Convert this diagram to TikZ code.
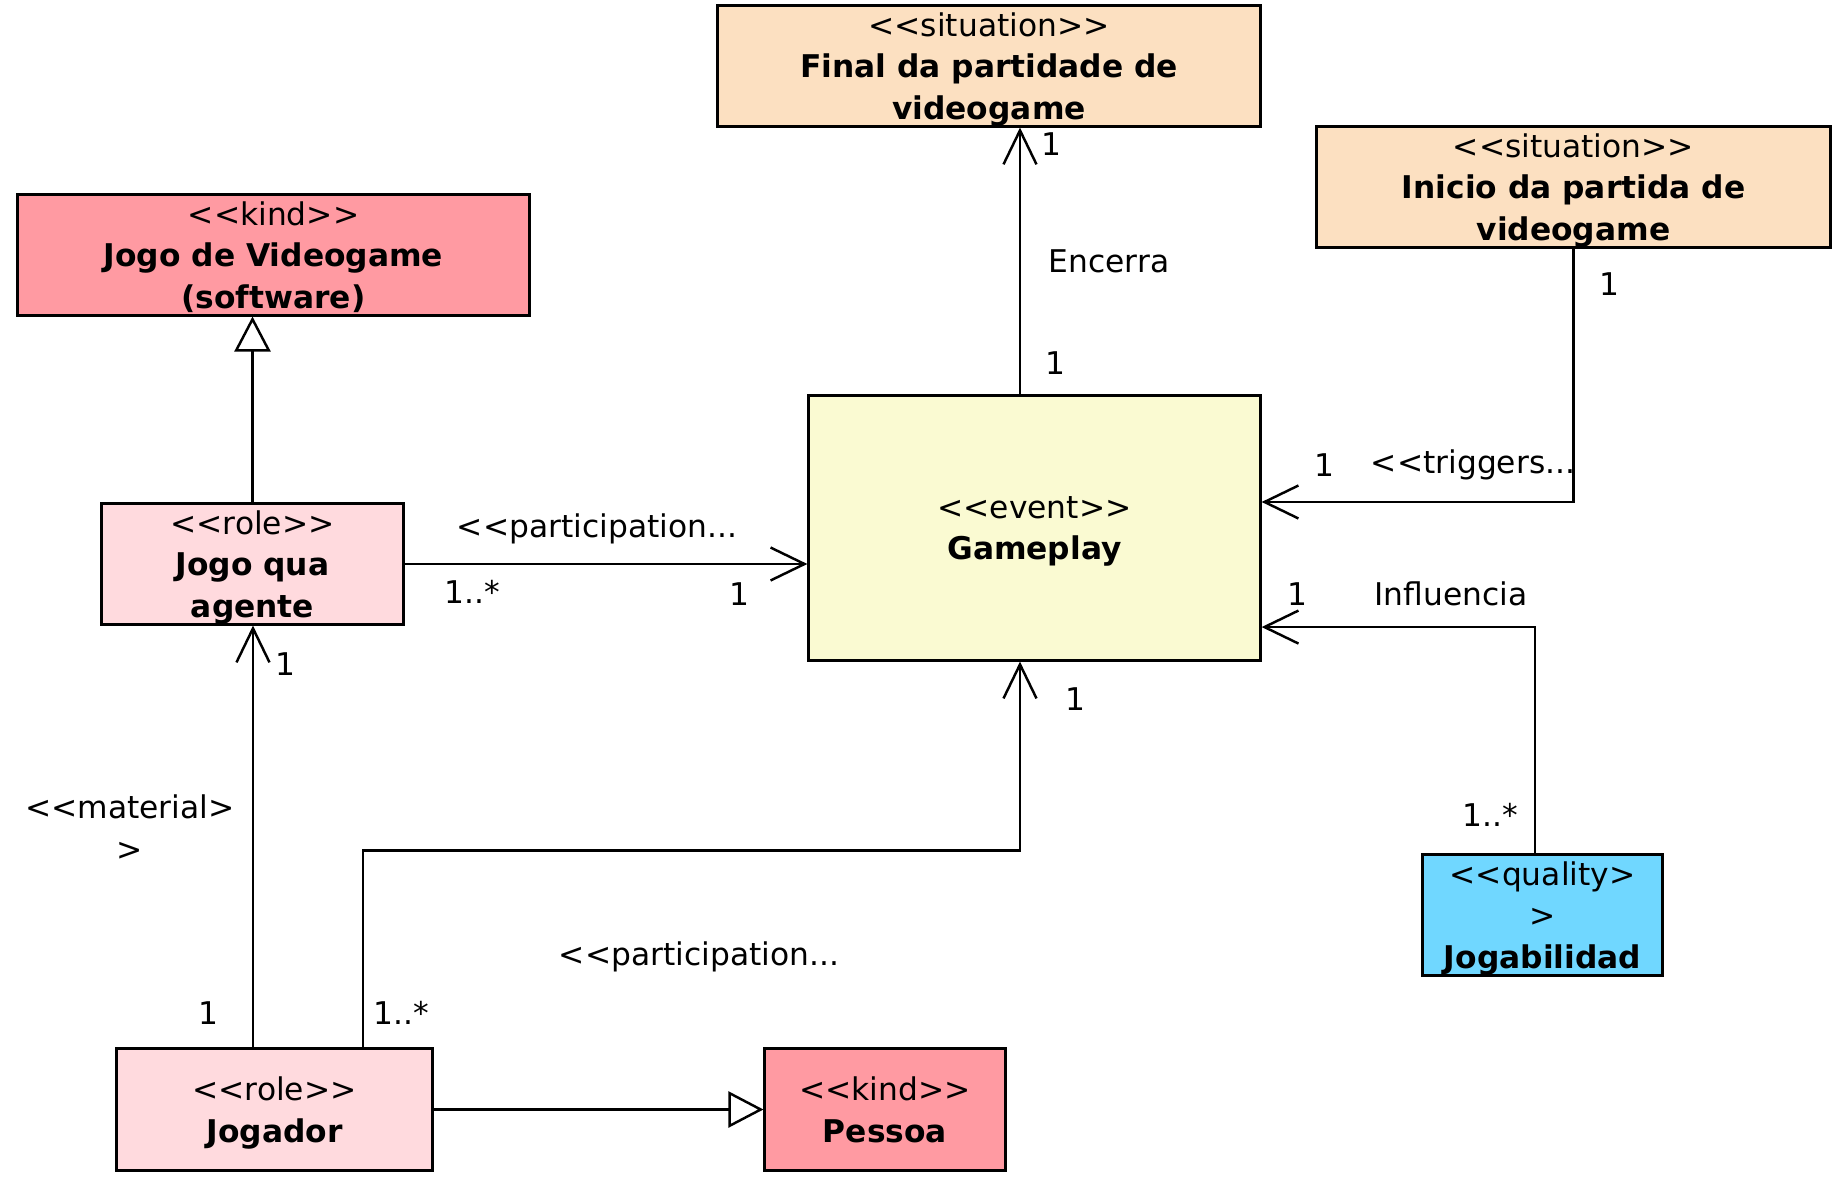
\documentclass[tikz,border=0pt]{standalone}
\usepackage{fontspec}
\setmainfont{DejaVu Sans}[Ligatures=TeXOff]
\usepackage{xcolor}
\usetikzlibrary{arrows.meta, positioning, calc}

\definecolor{sitfill}{RGB}{252,224,193}
\definecolor{kindfill}{RGB}{255,154,162}
\definecolor{rolefill}{RGB}{255,218,222}
\definecolor{eventfill}{RGB}{250,250,210}
\definecolor{qualfill}{RGB}{112,215,255}

\begin{document}
\begin{tikzpicture}[
  x=0.01cm, y=-0.01cm,
  % Class boxes
  classbox/.style={rectangle, draw=black, line width=0.85pt, align=center, inner sep=0pt,
    text depth=0pt, font=\fontsize{8.9}{11.9}\selectfont},
  situation/.style={classbox, fill=sitfill},
  kind/.style={classbox, fill=kindfill},
  role/.style={classbox, fill=rolefill},
  event/.style={classbox, fill=eventfill},
  quality/.style={classbox, fill=qualfill},
  % Association (open arrow) and generalization (hollow triangle)
  assoc/.style={-{Straight Barb[length=0.34cm, width=0.33cm]}, line width=0.7pt},
  gen/.style={-{Triangle[open, fill=white, length=0.35cm, width=0.36cm]}, line width=0.7pt},
  % Edge labels
  lbl/.style={inner sep=0pt, align=center, font=\fontsize{8.9}{11.9}\selectfont}
]
\useasboundingbox (0,0) rectangle (1842,1182);

%% Classes
\node[situation, minimum width=5.42cm, minimum height=1.2cm] (fim) at (989, 66)
  {<<situation>>\\\textbf{Final da partidade de}\\\textbf{videogame}};
\node[situation, minimum width=5.13cm, minimum height=1.2cm] (inicio) at (1573.5, 187)
  {<<situation>>\\\textbf{Inicio da partida de}\\\textbf{videogame}};
\node[kind, minimum width=5.11cm, minimum height=1.2cm] (jogo) at (273.5, 255)
  {<<kind>>\\\textbf{Jogo de Videogame}\\\textbf{(software)}};
\node[role, minimum width=3.01cm, minimum height=1.2cm] (jqa) at (252.5, 564)
  {<<role>>\\\textbf{Jogo qua}\\\textbf{agente}};
\node[event, minimum width=4.51cm, minimum height=2.64cm] (gameplay) at (1034.5, 528)
  {<<event>>\\\textbf{Gameplay}};
\node[quality, minimum width=2.39cm, minimum height=1.2cm] (jogab) at (1542.5, 915)
  {<<quality>\\>\\\textbf{Jogabilidad}};
\node[role, minimum width=3.15cm, minimum height=1.21cm] (jogador) at (274.5, 1109.5)
  {<<role>>\\\textbf{Jogador}};
\node[kind, minimum width=2.4cm, minimum height=1.21cm] (pessoa) at (885, 1109.5)
  {<<kind>>\\\textbf{Pessoa}};

%% Connectors
% Gameplay ends in Final
\draw[assoc] ([xshift=-0.145cm]gameplay.north) -- ([xshift=-0.145cm]gameplay.north |- fim.south);
% Inicio triggers Gameplay
\draw[assoc] (inicio.south) |- ([yshift=0.26cm]gameplay.east);
% Jogabilidad influences Gameplay
\draw[assoc] ([xshift=-0.075cm]jogab.north) |- ([yshift=-0.99cm]gameplay.east);
% Jogo qua agente participates in Gameplay
\draw[assoc] (jqa.east) -- (jqa.east -| gameplay.west);
% Jogo qua agente is a Jogo de Videogame
\draw[gen] (jqa.north) -- (jqa.north |- jogo.south);
% Jogador to Jogo qua agente
\draw[assoc] ([xshift=-0.215cm]jogador.north) -- ([xshift=-0.215cm]jogador.north |- jqa.south);
% Jogador participates in Gameplay
\draw[assoc] ([xshift=0.885cm]jogador.north) -- ++(0,1.97cm) -| ([xshift=-0.145cm]gameplay.south);
% Jogador is a Pessoa
\draw[gen] (jogador.east) -- (pessoa.west);

%% Labels
\node[lbl] (m1) at (1051, 144) {1};
\node[lbl] (encerra) at (1109, 261) {Encerra};
\node[lbl] (m2) at (1055, 363) {1};
\node[lbl] (m3) at (1609, 284) {1};
\node[lbl] (m4) at (1324, 465) {1};
\node[lbl] (triggers) at (1473, 465) {<<triggers...};
\node[lbl] (m5) at (1297, 594) {1};
\node[lbl] (influencia) at (1451, 594) {Influencia};
\node[lbl] (m6) at (1490, 815) {1..*};
\node[lbl] (part1) at (597, 529) {<<participation...};
\node[lbl] (m7) at (472, 592) {1..*};
\node[lbl] (m8) at (739, 594) {1};
\node[lbl] (m9) at (285, 664) {1};
\node[lbl] (material) at (130, 828) {<<material>\\>};
\node[lbl] (m10) at (1075, 699) {1};
\node[lbl] (part2) at (699, 957) {<<participation...};
\node[lbl] (m11) at (208, 1013) {1};
\node[lbl] (m12) at (401, 1013) {1..*};

\end{tikzpicture}
\end{document}
